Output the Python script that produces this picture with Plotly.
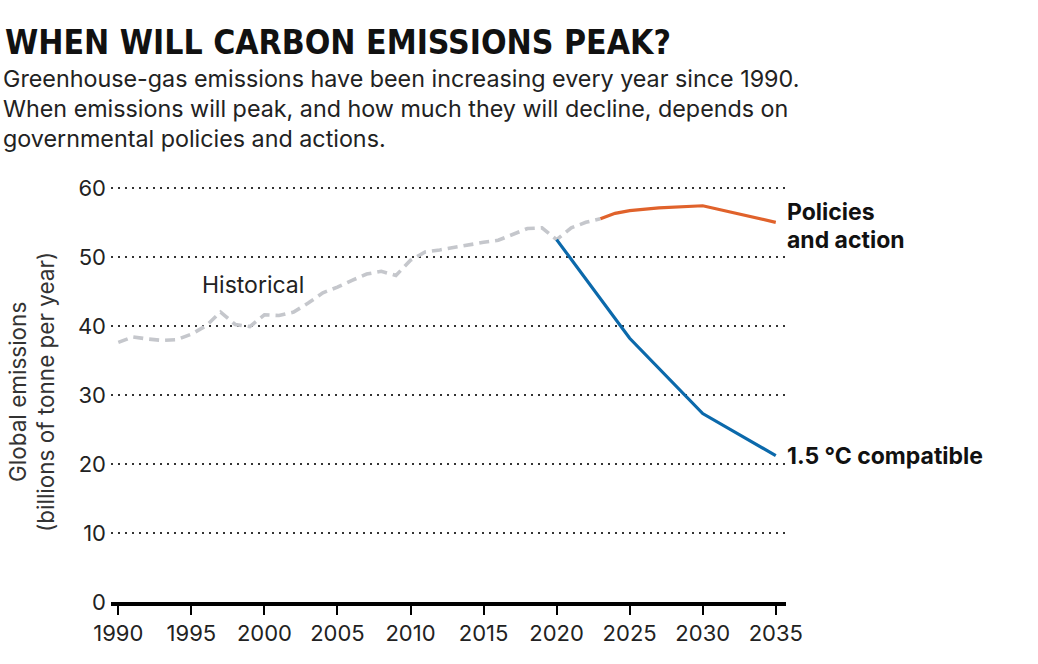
import plotly.graph_objects as go

hist_years = list(range(1990, 2024))
hist_values = [37.6, 38.4, 38.1, 37.9, 38.0, 38.8, 40.0, 42.0, 40.2, 39.9,
               41.6, 41.5, 42.0, 43.3, 44.8, 45.6, 46.6, 47.5, 47.9, 47.3,
               49.5, 50.7, 51.0, 51.4, 51.8, 52.1, 52.4, 53.2, 54.1, 54.2,
               52.5, 54.2, 55.0, 55.5]

policy_years = [2023, 2024, 2025, 2027, 2030, 2035]
policy_values = [55.5, 56.3, 56.7, 57.1, 57.4, 55.0]

c15_years = [2020, 2025, 2030, 2035]
c15_values = [52.5, 38.2, 27.3, 21.2]

x_ticks = list(range(1990, 2036, 5))
y_ticks = [0, 10, 20, 30, 40, 50, 60]

title = "WHEN WILL CARBON EMISSIONS PEAK?"
subtitle_lines = [
    "Greenhouse-gas emissions have been increasing every year since 1990.",
    "When emissions will peak, and how much they will decline, depends on",
    "governmental policies and actions.",
]
y_title_lines = ["Global emissions", "(billions of tonne per year)"]

W, H = 1038, 664
L, T = 111, 174
R = W - 786
B = H - 602
PW, PH = W - L - R, H - T - B

def px(x):
    return (x - L) / PW

def py(y):
    return (H - B - y) / PH

TXT = "Inter, Roboto, Noto Sans, sans-serif"
TITLEF = "Liberation Sans Narrow, DejaVu Sans Condensed, Arial Narrow, sans-serif"

fig = go.Figure()
fig.add_trace(go.Scatter(x=hist_years, y=hist_values, mode="lines",
                         line=dict(color="#c5c7cc", width=3.6, dash="10px,6px"),
                         hoverinfo="skip", showlegend=False))
fig.add_trace(go.Scatter(x=policy_years, y=policy_values, mode="lines",
                         line=dict(color="#e0622b", width=3.2),
                         showlegend=False))
fig.add_trace(go.Scatter(x=c15_years, y=c15_values, mode="lines",
                         line=dict(color="#0b69ab", width=3.2),
                         showlegend=False))

ann = []
ann.append(dict(text="<b>" + title + "</b>", x=px(3), y=py(42), xanchor="left", yanchor="middle",
                font=dict(family=TITLEF, size=33.5, color="#111")))
for i, line in enumerate(subtitle_lines):
    ann.append(dict(text=line, x=px(1), y=py(79 + i * 29.5), xanchor="left", yanchor="middle",
                    font=dict(family=TXT, size=23.3, color="#222")))
for i, line in enumerate(y_title_lines):
    ann.append(dict(text=line, x=px(17 + i * 28), y=py(392), xanchor="center", yanchor="middle",
                    textangle=-90, font=dict(family=TXT, size=22.5, color="#333")))
ann.append(dict(text="Historical", x=1999.2, y=45.9, xref="x", yref="y", xanchor="center",
                yanchor="middle", font=dict(family=TXT, size=23, color="#222")))
ann.append(dict(text="<b>Policies</b>", x=2035.6, y=56.5, xref="x", yref="y",
                xanchor="left", yanchor="middle", font=dict(family=TXT, size=23, color="#111")))
ann.append(dict(text="<b>and action</b>", x=2035.6, y=52.4, xref="x", yref="y",
                xanchor="left", yanchor="middle", font=dict(family=TXT, size=23, color="#111")))
ann.append(dict(text="<b>1.5 °C compatible</b>", x=2035.6, y=c15_values[-1], xref="x",
                yref="y", xanchor="left", yanchor="middle", font=dict(family=TXT, size=23, color="#111")))
for a in ann:
    a.setdefault("xref", "paper")
    a.setdefault("yref", "paper")
    a["showarrow"] = False

fig.update_layout(
    width=W, height=H,
    margin=dict(l=L, r=R, t=T, b=B, autoexpand=False),
    paper_bgcolor="white", plot_bgcolor="white",
    annotations=ann,
    xaxis=dict(range=[1989.5, 2035.7], tickvals=x_ticks, showgrid=False, zeroline=False,
               showline=True, linecolor="#000", linewidth=4,
               ticks="outside", ticklen=9, tickwidth=1.5, tickcolor="#000",
               tickfont=dict(family=TXT, size=22, color="#222")),
    yaxis=dict(range=[0, 62], tickvals=y_ticks, showgrid=True, gridcolor="#333",
               gridwidth=1.5, griddash="2px,5px", zeroline=False, showline=False,
               ticks="", ticklabelstandoff=4,
               tickfont=dict(family=TXT, size=22, color="#222")),
    showlegend=False,
)

fig.write_html("out.html", config={"displayModeBar": False},
               post_script="document.body.style.margin='0';document.body.style.overflow='hidden';")
